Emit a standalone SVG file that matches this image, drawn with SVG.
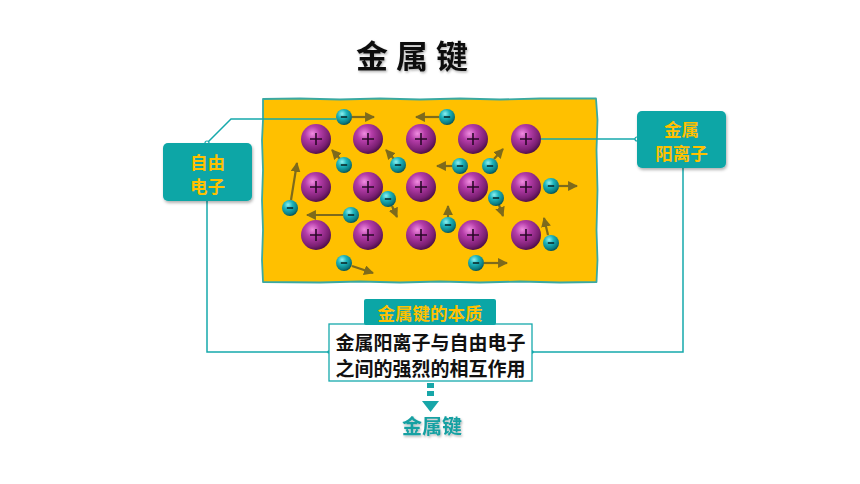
<svg xmlns="http://www.w3.org/2000/svg" width="860" height="484" viewBox="0 0 860 484">
<defs>
<radialGradient id="gP" cx="0.38" cy="0.32" r="0.7">
<stop offset="0" stop-color="#f08ce0"/>
<stop offset="0.35" stop-color="#b43ca8"/>
<stop offset="0.8" stop-color="#7a1f72"/>
<stop offset="1" stop-color="#4e0f48"/>
</radialGradient>
<radialGradient id="gE" cx="0.38" cy="0.3" r="0.7">
<stop offset="0" stop-color="#8ff0f0"/>
<stop offset="0.4" stop-color="#1eb4bc"/>
<stop offset="0.85" stop-color="#0b7a80"/>
<stop offset="1" stop-color="#06555a"/>
</radialGradient>
<marker id="ah" viewBox="0 0 10 10" refX="9" refY="5" markerWidth="4.5" markerHeight="4.5" orient="auto" markerUnits="strokeWidth">
<path d="M0,0 L10,5 L0,10 z" fill="#7d6a1c"/>
</marker>
<filter id="sh" x="-10%" y="-10%" width="130%" height="140%">
<feDropShadow dx="1" dy="2" stdDeviation="1.5" flood-color="#000" flood-opacity="0.3"/>
</filter>
<filter id="tsh" x="-10%" y="-10%" width="130%" height="140%">
<feDropShadow dx="1" dy="1.5" stdDeviation="0.8" flood-color="#000" flood-opacity="0.3"/>
</filter>
<g id="cat">
<circle r="15" fill="url(#gP)"/>
<path d="M-6,0 H6 M0,-6 V6" stroke="#2a0828" stroke-width="1.6"/>
</g>
<g id="ele">
<circle r="8" fill="url(#gE)"/>
<path d="M-3.2,0 H3.2" stroke="#0a2a2c" stroke-width="1.6"/>
</g>
</defs>
<style>
.cjk{font-family:"Noto Sans CJK SC","Noto Sans",sans-serif;font-weight:bold}
.lbl{fill:#ffc000;font-size:17.5px}
.box{fill:#0ba6a6}
.ln{fill:none;stroke:#16a9ac;stroke-width:1.5}
.mv{stroke:#7d6a1c;stroke-width:2.2;fill:none;marker-end:url(#ah)}
.dot{fill:#ffffff;stroke:#16a9ac;stroke-width:1.2}
</style>
<rect width="860" height="484" fill="#ffffff"/>

<g id="title">
<text x="416" y="68" text-anchor="middle" class="cjk" font-size="32" letter-spacing="8" fill="#111" filter="url(#tsh)">金属键</text>
</g>

<g id="metal">
<path d="M263,99 L300,98.5 L340,99.5 L380,98.5 L420,99.5 L460,98.5 L500,99.5 L540,98.5 L596,98.5 L597.5,120 L596.5,150 L597.5,190 L596.5,230 L597.5,260 L596.5,282 L560,282.5 L520,281.5 L480,282.5 L440,281.5 L400,282.5 L360,281.5 L320,282.5 L263,282 L262,260 L263,230 L262,200 L263,170 L262,140 L263,120 Z" fill="#ffc000" stroke="#3aa9a2" stroke-width="1.8" stroke-linejoin="round"/>
<g id="motion">
<line class="mv" x1="352" y1="117" x2="374" y2="117"/>
<line class="mv" x1="439" y1="117" x2="416" y2="117"/>
<line class="mv" x1="340" y1="159" x2="332" y2="150"/>
<line class="mv" x1="394" y1="159" x2="386" y2="150"/>
<line class="mv" x1="392" y1="206" x2="397" y2="217"/>
<line class="mv" x1="291" y1="200" x2="297" y2="163"/>
<line class="mv" x1="343" y1="215" x2="307" y2="215"/>
<line class="mv" x1="352" y1="266" x2="373" y2="273"/>
<line class="mv" x1="448" y1="217" x2="448" y2="206"/>
<line class="mv" x1="452" y1="166" x2="437" y2="166"/>
<line class="mv" x1="494" y1="159" x2="503" y2="149"/>
<line class="mv" x1="499" y1="205" x2="503" y2="216"/>
<line class="mv" x1="559" y1="186" x2="577" y2="186"/>
<line class="mv" x1="548" y1="235" x2="544" y2="218"/>
<line class="mv" x1="484" y1="263" x2="507" y2="263"/>
</g>
<g id="cations">
<use href="#cat" x="316" y="139"/>
<use href="#cat" x="368" y="139"/>
<use href="#cat" x="421" y="139"/>
<use href="#cat" x="473" y="139"/>
<use href="#cat" x="526" y="139"/>
<use href="#cat" x="316" y="187"/>
<use href="#cat" x="368" y="187"/>
<use href="#cat" x="421" y="187"/>
<use href="#cat" x="473" y="187"/>
<use href="#cat" x="526" y="187"/>
<use href="#cat" x="316" y="235"/>
<use href="#cat" x="368" y="235"/>
<use href="#cat" x="421" y="235"/>
<use href="#cat" x="473" y="235"/>
<use href="#cat" x="526" y="235"/>
</g>
<g id="electrons">
<use href="#ele" x="344" y="117"/>
<use href="#ele" x="447" y="117"/>
<use href="#ele" x="344" y="165"/>
<use href="#ele" x="398" y="165"/>
<use href="#ele" x="388" y="199"/>
<use href="#ele" x="290" y="208"/>
<use href="#ele" x="351" y="215"/>
<use href="#ele" x="344" y="263"/>
<use href="#ele" x="448" y="225"/>
<use href="#ele" x="460" y="166"/>
<use href="#ele" x="490" y="166"/>
<use href="#ele" x="496" y="198"/>
<use href="#ele" x="551" y="186"/>
<use href="#ele" x="551" y="243"/>
<use href="#ele" x="476" y="263"/>
</g>
</g>

<g id="connectors">
<polyline class="ln" points="207,143 231,119 336,119"/>
<line class="ln" x1="637" y1="139" x2="541" y2="139"/>
<polyline class="ln" points="207,201 207,352 329,352"/>
<polyline class="ln" points="683,168 683,352 532,352"/>
<circle class="dot" cx="207" cy="143" r="2"/>
<circle class="dot" cx="637" cy="139" r="2"/>
<circle cx="329" cy="352" r="1.8" fill="#16a9ac"/>
<circle cx="532" cy="352" r="1.8" fill="#16a9ac"/>
<g id="dasharrow" fill="#17a6a8">
<rect x="427" y="375" width="7" height="5"/>
<rect x="427" y="383" width="7" height="5"/>
<rect x="427" y="391" width="7" height="5"/>
<path d="M422,401 H439 L430.5,412 Z"/>
</g>
</g>

<g id="free-electron">
<rect x="163" y="143" width="89" height="58" rx="5" class="box" filter="url(#sh)"/>
<text x="207.5" y="169" text-anchor="middle" class="cjk lbl">自由</text>
<text x="207.5" y="193" text-anchor="middle" class="cjk lbl">电子</text>
</g>

<g id="metal-cation">
<rect x="637" y="111" width="89" height="57" rx="5" class="box" filter="url(#sh)"/>
<text x="681.5" y="136" text-anchor="middle" class="cjk lbl">金属</text>
<text x="681.5" y="160" text-anchor="middle" class="cjk lbl">阳离子</text>
</g>

<g id="essence">
<rect x="329" y="324" width="203" height="57" fill="#ffffff" stroke="#16a9ac" stroke-width="1.3"/>
<rect x="364" y="299" width="132" height="26" rx="2" class="box"/>
<text x="430" y="320" text-anchor="middle" class="cjk" font-size="17.5" fill="#ffc000">金属键的本质</text>
<text x="430.5" y="350" text-anchor="middle" class="cjk" font-size="19" fill="#111">金属阳离子与自由电子</text>
<text x="430.5" y="376" text-anchor="middle" class="cjk" font-size="19" fill="#111">之间的强烈的相互作用</text>
</g>

<g id="result">
<text x="432" y="434" text-anchor="middle" class="cjk" font-size="20" fill="#17a0a2" filter="url(#tsh)">金属键</text>
</g>
</svg>
